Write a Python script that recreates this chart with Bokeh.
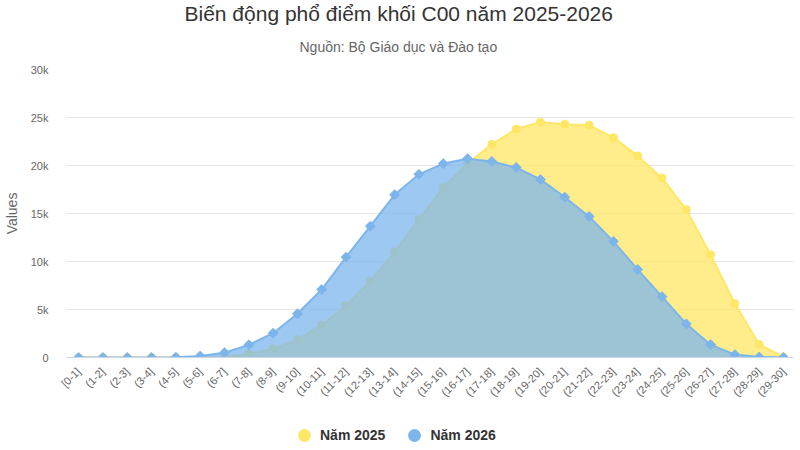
import math
from bokeh.plotting import figure
from bokeh.layouts import column
from bokeh.models import (Range1d, FixedTicker, Title, Legend, LegendItem)
from bokeh.embed import file_html
from bokeh.resources import INLINE

# ---------------- data ----------------
categories = ["[0-1]", "(1-2]", "(2-3]", "(3-4]", "(4-5]", "(5-6]", "(6-7]", "(7-8]",
              "(8-9]", "(9-10]", "(10-11]", "(11-12]", "(12-13]", "(13-14]", "(14-15]",
              "(15-16]", "(16-17]", "(17-18]", "(18-19]", "(19-20]", "(20-21]", "(21-22]",
              "(22-23]", "(23-24]", "(24-25]", "(25-26]", "(26-27]", "(27-28]", "(28-29]",
              "(29-30]"]
values_2025 = [0, 0, 0, 0, 0, 20, 60, 400, 900, 1850, 3400, 5400, 7950, 11000, 14400,
               17700, 20200, 22200, 23800, 24500, 24300, 24200, 22900, 21000, 18700,
               15400, 10700, 5600, 1350, 60]
values_2026 = [0, 0, 0, 0, 20, 150, 500, 1320, 2530, 4550, 7080, 10450, 13680, 16950,
               19080, 20200, 20700, 20420, 19800, 18540, 16700, 14690, 12100, 9160, 6340,
               3500, 1340, 300, 50, 0]
series_names = ["Năm 2025", "Năm 2026"]
y_ticks = [0, 5000, 10000, 15000, 20000, 25000, 30000]
y_tick_labels = ["0", "5k", "10k", "15k", "20k", "25k", "30k"]
title_text = "Biến động phổ điểm khối C00 năm 2025-2026"
subtitle_text = "Nguồn: Bộ Giáo dục và Đào tạo"

FONT = "Liberation Sans"
YELLOW = "#FFE766"
BLUE = "#7CB5EC"

x = list(range(len(categories)))

p = figure(width=800, height=410, output_backend="svg", toolbar_location=None,
           title=None,
           x_range=Range1d(-0.5, 29.41), y_range=Range1d(0, 30000),
           min_border_left=65, min_border_right=7, min_border_top=69,
           min_border_bottom=53)
p.outline_line_color = None
p.background_fill_color = "white"
p.border_fill_color = "white"

# grid
p.xgrid.visible = False
p.ygrid.ticker = FixedTicker(ticks=y_ticks)
p.ygrid.grid_line_color = "#e6e6e6"
p.ygrid.grid_line_width = 1

# x axis
xa = p.xaxis[0]
xa.ticker = FixedTicker(ticks=x)
xa.major_label_overrides = {i: c for i, c in enumerate(categories)}
xa.major_label_orientation = math.pi / 4
xa.major_tick_line_color = None
xa.minor_tick_line_color = None
xa.axis_line_color = "#ccd6eb"
xa.major_label_text_font = FONT
xa.major_label_text_font_size = "11px"
xa.major_label_text_color = "#666666"
xa.major_label_standoff = 6

# y axis
ya = p.yaxis[0]
ya.ticker = FixedTicker(ticks=y_ticks)
ya.major_label_overrides = {t: l for t, l in zip(y_ticks, y_tick_labels)}
ya.major_tick_line_color = None
ya.minor_tick_line_color = None
ya.axis_line_color = None
ya.major_label_text_font = FONT
ya.major_label_text_font_size = "11px"
ya.major_label_text_color = "#666666"
ya.major_label_standoff = 12
ya.axis_label = "Values"
ya.axis_label_text_font = FONT
ya.axis_label_text_font_size = "14px"
ya.axis_label_text_font_style = "normal"
ya.axis_label_text_color = "#666666"
ya.axis_label_standoff = 8

# series 2025
p.varea(x=x, y1=[0] * len(x), y2=values_2025, fill_color=YELLOW, fill_alpha=0.75)
p.line(x=x, y=values_2025, line_color=YELLOW, line_width=2)
p.scatter(x=x, y=values_2025, marker="circle", size=8, fill_color=YELLOW, line_color=YELLOW)

# series 2026
p.varea(x=x, y1=[0] * len(x), y2=values_2026, fill_color=BLUE, fill_alpha=0.75)
p.line(x=x, y=values_2026, line_color=BLUE, line_width=2)
p.scatter(x=x, y=values_2026, marker="square", angle=math.pi / 4, size=7,
          fill_color=BLUE, line_color=BLUE)

# subtitle first (closest to frame), then title
p.add_layout(Title(text=subtitle_text, align="left", offset=233, text_font=FONT,
                   text_font_size="14px", text_font_style="normal",
                   text_color="#666666", standoff=29), "above")
p.add_layout(Title(text=title_text, align="left", offset=118, text_font=FONT,
                   text_font_size="21px", text_font_style="normal",
                   text_color="#333333", standoff=-4), "above")

# ---------------- legend strip ----------------
lf = figure(width=800, height=40, output_backend="svg", toolbar_location=None,
            title=None, x_axis_type=None, y_axis_type=None,
            x_range=Range1d(-0.5, 29.41), y_range=Range1d(0, 30000),
            min_border=0)
lf.outline_line_color = None
lf.xgrid.visible = False
lf.ygrid.visible = False
leg_y = lf.scatter(x=x, y=values_2025, marker="circle", size=0,
                   fill_color=YELLOW, line_color=None)
leg_b = lf.scatter(x=x, y=values_2026, marker="circle", size=0,
                   fill_color=BLUE, line_color=None)
legend = Legend(items=[LegendItem(label=series_names[0], renderers=[leg_y]),
                       LegendItem(label=series_names[1], renderers=[leg_b])],
                orientation="horizontal", location=(222, -1),
                padding=0, margin=0, spacing=13, glyph_width=32, glyph_height=32,
                label_height=32, label_standoff=-4,
                label_text_font=FONT, label_text_font_size="14px",
                label_text_font_style="bold", label_text_color="#333333",
                border_line_color=None, background_fill_alpha=0)
lf.add_layout(legend, "center")

open("out.html", "w").write(file_html(column(p, lf), INLINE))
